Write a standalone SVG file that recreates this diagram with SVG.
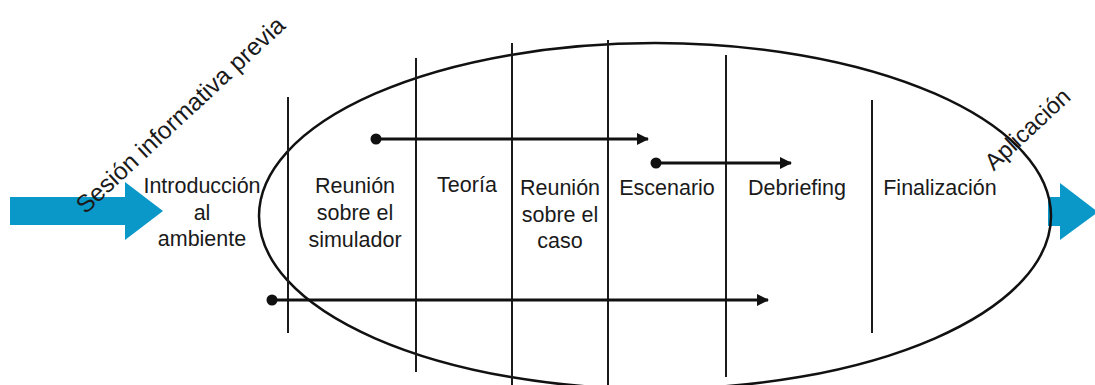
<svg xmlns="http://www.w3.org/2000/svg" width="1095" height="385" viewBox="0 0 1095 385">
<style>
text{font-family:"Liberation Sans",Arial,sans-serif;font-size:21.5px;fill:#1a1a1a;text-anchor:middle}
.div{stroke:#1a1a1a;stroke-width:2}
.conn{stroke:#111;stroke-width:3;fill:none;marker-end:url(#ah)}
.dot{fill:#111}
.blue{fill:#0a98c9}
</style>
<defs>
<marker id="ah" viewBox="0 0 12 12" refX="11" refY="6" markerWidth="12" markerHeight="12" markerUnits="userSpaceOnUse" orient="auto">
<path d="M0,0 L12,6 L0,12 Z" fill="#111"/>
</marker>
</defs>
<rect width="1095" height="385" fill="#fff"/>
<g id="arrow-in"><polygon class="blue" points="10,197 125,197 125,182 163,211 125,240 125,225 10,225"/></g>
<g id="arrow-out"><polygon class="blue" points="1048,197 1060,197 1060,183 1098,212 1060,240 1060,226 1048,226"/></g>
<g id="ellipse"><ellipse cx="655" cy="216" rx="396" ry="173" fill="none" stroke="#111" stroke-width="2.5"/></g>
<g id="dividers">
<line class="div" x1="288" y1="97" x2="288" y2="333"/>
<line class="div" x1="416" y1="58" x2="416" y2="372"/>
<line class="div" x1="512" y1="43" x2="512" y2="385"/>
<line class="div" x1="608" y1="40" x2="608" y2="385"/>
<line class="div" x1="726" y1="55" x2="726" y2="377"/>
<line class="div" x1="872" y1="100" x2="872" y2="333"/>
</g>
<g id="connectors">
<circle class="dot" cx="376" cy="139" r="5.5"/>
<line class="conn" x1="376" y1="139" x2="648" y2="139"/>
<circle class="dot" cx="656" cy="163" r="5.5"/>
<line class="conn" x1="656" y1="163" x2="791" y2="163"/>
<circle class="dot" cx="272" cy="300" r="5.5"/>
<line class="conn" x1="272" y1="300" x2="768" y2="300"/>
</g>
<g id="n-intro"><text x="202" y="193">Introducción</text><text x="202" y="220">al</text><text x="202" y="246">ambiente</text></g>
<g id="n-reunion-sim"><text x="355" y="193">Reunión</text><text x="355" y="220">sobre el</text><text x="355" y="247">simulador</text></g>
<g id="n-teoria"><text x="467" y="192">Teoría</text></g>
<g id="n-reunion-caso"><text x="560" y="195">Reunión</text><text x="560" y="222">sobre el</text><text x="560" y="248">caso</text></g>
<g id="n-escenario"><text x="667" y="195">Escenario</text></g>
<g id="n-debriefing"><text x="797" y="195">Debriefing</text></g>
<g id="n-finalizacion"><text x="940" y="195">Finalización</text></g>
<g id="l-sesion"><text transform="translate(186,121) rotate(-43)" x="0" y="0" style="font-size:24.5px">Sesión informativa previa</text></g>
<g id="l-aplicacion"><text transform="translate(1033,135) rotate(-43)" x="0" y="0" style="font-size:23.5px">Aplicación</text></g>
</svg>
